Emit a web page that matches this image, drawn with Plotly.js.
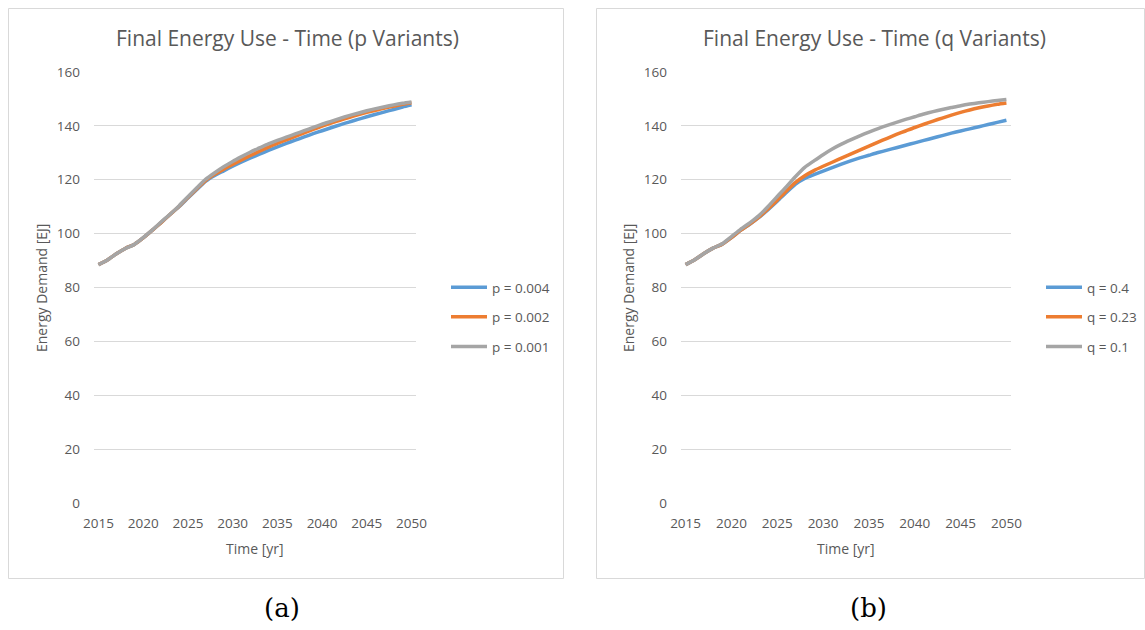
<!DOCTYPE html>
<html>
<head>
<meta charset="utf-8">
<script src="https://cdn.plot.ly/plotly-3.0.1.min.js"></script>
<style>html,body{margin:0;padding:0;background:#fff;}#chart{width:1145px;height:630px;}</style>
</head>
<body>
<div id="chart"></div>
<script>
const years = [2015,2016,2017,2018,2019,2020,2021,2022,2023,2024,2025,2026,2027,2028,2029,2030,2031,2032,2033,2034,2035,2036,2037,2038,2039,2040,2041,2042,2043,2044,2045,2046,2047,2048,2049,2050];

// (a) p variants
const p004 = [88.5,90.2,92.5,94.5,96.0,98.4,101.2,104.1,107.1,110.0,113.2,116.4,119.5,121.6,123.3,125.0,126.6,128.1,129.5,130.9,132.2,133.5,134.7,135.9,137.1,138.2,139.3,140.4,141.4,142.4,143.4,144.3,145.2,146.1,147.0,147.8];
const p002 = [88.5,90.2,92.5,94.5,96.0,98.4,101.2,104.1,107.1,110.1,113.4,116.7,119.8,122.0,123.9,125.7,127.4,129.0,130.6,132.1,133.5,134.8,136.1,137.4,138.7,139.9,141.0,142.1,143.1,144.1,145.0,145.8,146.6,147.3,148.0,148.6];
const p001 = [88.5,90.2,92.5,94.5,96.0,98.5,101.3,104.3,107.2,110.3,113.7,117.0,120.2,122.6,124.8,126.8,128.6,130.3,131.8,133.3,134.6,135.8,137.0,138.2,139.4,140.6,141.7,142.8,143.8,144.7,145.6,146.4,147.1,147.8,148.4,148.9];

// (b) q variants
const q04  = [88.5,90.3,92.6,94.6,96.1,98.5,101.2,103.5,106.0,108.9,112.0,115.3,118.4,120.5,121.9,123.2,124.5,125.8,127.0,128.1,129.1,130.1,131.0,131.9,132.8,133.7,134.6,135.5,136.4,137.3,138.1,138.9,139.7,140.5,141.3,142.1];
const q023 = [88.5,90.3,92.6,94.6,96.1,98.5,101.2,103.5,106.1,109.2,112.4,115.8,119.0,121.5,123.4,125.0,126.5,128.0,129.5,131.0,132.5,134.0,135.4,136.8,138.1,139.4,140.6,141.8,142.9,144.0,145.0,145.9,146.7,147.4,148.0,148.5];
const q01  = [88.5,90.3,92.6,94.6,96.2,98.9,101.6,104.0,106.7,110.1,113.8,117.4,121.2,124.6,127.0,129.3,131.4,133.2,134.8,136.3,137.7,139.0,140.2,141.3,142.4,143.4,144.4,145.3,146.1,146.8,147.5,148.1,148.6,149.0,149.4,149.8];

const xTicks = [2015,2020,2025,2030,2035,2040,2045,2050];
const yTicks = [0,20,40,60,80,100,120,140,160];

const namesA = ['p = 0.004','p = 0.002','p = 0.001'];
const namesB = ['q = 0.4','q = 0.23','q = 0.1'];
const colors = ['#5B9BD5','#ED7D31','#A5A5A5'];

const W = 1145, H = 630;
const px = v => v / W;
const py = v => 1 - v / H;
const FONT = 'Open Sans, Liberation Sans, sans-serif';
const TXT = '#595959';

function mk(x, y, name, i, xa, ya, leg) {
  return {x: x, y: y, name: name, type: 'scatter', mode: 'lines',
    line: {color: colors[i], width: 3.5, shape: 'spline', smoothing: 0.6},
    xaxis: xa, yaxis: ya, legend: leg, legendgroup: leg + i, hoverinfo: 'x+y+name'};
}

const data = [
  mk(years, p004, namesA[0], 0, 'x', 'y', 'legend'),
  mk(years, p002, namesA[1], 1, 'x', 'y', 'legend'),
  mk(years, p001, namesA[2], 2, 'x', 'y', 'legend'),
  mk(years, q04,  namesB[0], 0, 'x2', 'y2', 'legend2'),
  mk(years, q023, namesB[1], 1, 'x2', 'y2', 'legend2'),
  mk(years, q01,  namesB[2], 2, 'x2', 'y2', 'legend2')
];

function xax(d0, d1, anchor) {
  return {domain: [px(d0), px(d1)], anchor: anchor, range: [2014.5, 2050.5],
    tickmode: 'array', tickvals: xTicks, ticktext: xTicks.map(String),
    showgrid: false, zeroline: false, showline: false, ticks: '',
    ticklabelstandoff: 10, tickfont: {family: FONT, size: 13.5, color: TXT}, fixedrange: true};
}
function yax(anchor) {
  return {domain: [py(503), py(72)], anchor: anchor, range: [0, 160],
    tickmode: 'array', tickvals: yTicks, ticktext: yTicks.map(String),
    showgrid: true, gridcolor: '#D9D9D9', gridwidth: 1, zeroline: false, showline: false, ticks: '',
    ticklabelstandoff: 13, tickfont: {family: FONT, size: 13.5, color: TXT}, fixedrange: true};
}

function legendAt(x, y) {
  return {x: px(x), y: py(y), xanchor: 'left', yanchor: 'top', bgcolor: 'rgba(0,0,0,0)',
    font: {family: FONT, size: 13.5, color: TXT}, tracegroupgap: 9, itemwidth: 36};
}

function ann(text, x, y, size, extra) {
  return Object.assign({text: text, x: px(x), y: py(y), xref: 'paper', yref: 'paper',
    xanchor: 'center', yanchor: 'middle', showarrow: false,
    font: {family: FONT, size: size, color: TXT}}, extra || {});
}

const layout = {
  width: W, height: H, margin: {l: 0, r: 0, t: 0, b: 0},
  paper_bgcolor: '#fff', plot_bgcolor: '#fff', showlegend: true,
  xaxis: xax(94, 416, 'y'), yaxis: yax('x'),
  xaxis2: xax(681, 1011, 'y2'), yaxis2: yax('x2'),
  legend: legendAt(446, 272), legend2: legendAt(1041, 272),
  shapes: [
    {type: 'rect', xref: 'paper', yref: 'paper', x0: px(8.5), x1: px(563.5), y0: py(578.5), y1: py(8.5), line: {color: '#D9D9D9', width: 1}},
    {type: 'rect', xref: 'paper', yref: 'paper', x0: px(596.5), x1: px(1144.5), y0: py(578.5), y1: py(8.5), line: {color: '#D9D9D9', width: 1}}
  ],
  annotations: [
    ann('Final Energy Use - Time (p Variants)', 287, 38, 21),
    ann('Final Energy Use - Time (q Variants)', 874, 38, 21),
    ann('Energy Demand [EJ]', 42, 288, 14, {textangle: -90}),
    ann('Energy Demand [EJ]', 629, 288, 14, {textangle: -90}),
    ann('Time [yr]', 255, 548, 14),
    ann('Time [yr]', 846, 548, 14),
    ann('(a)', 282, 608, 26, {font: {family: 'DejaVu Serif, Liberation Serif, serif', size: 26, color: '#000'}}),
    ann('(b)', 868, 608, 26, {font: {family: 'DejaVu Serif, Liberation Serif, serif', size: 26, color: '#000'}})
  ]
};

Plotly.newPlot('chart', data, layout, {displayModeBar: false, staticPlot: true});
</script>
</body>
</html>
